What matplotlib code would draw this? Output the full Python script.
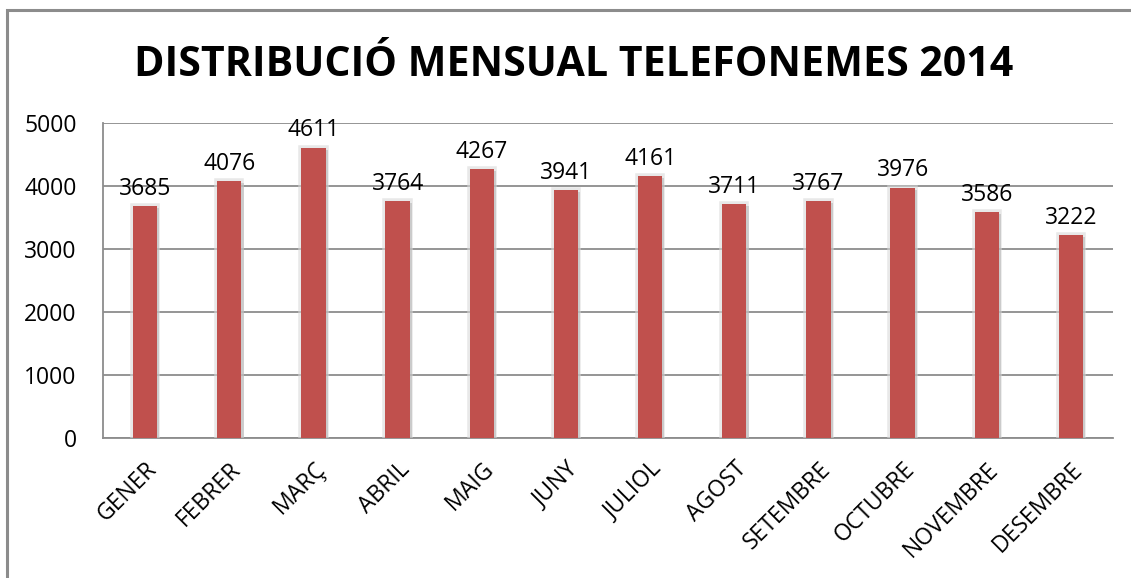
import matplotlib
matplotlib.use("Agg")
import matplotlib.pyplot as plt
import matplotlib.patheffects as pe
from matplotlib.patches import Rectangle

months = ["GENER", "FEBRER", "MARÇ", "ABRIL", "MAIG", "JUNY", "JULIOL",
          "AGOST", "SETEMBRE", "OCTUBRE", "NOVEMBRE", "DESEMBRE"]
calls = [3685, 4076, 4611, 3764, 4267, 3941, 4161, 3711, 3767, 3976, 3586, 3222]
yticks = [0, 1000, 2000, 3000, 4000, 5000]

plt.rcParams['font.family'] = ['Open Sans', 'DejaVu Sans']

fig = plt.figure(figsize=(11.31, 5.78), dpi=100)
# outer chart border (only top/left visible in the reference)
fig.patches.append(Rectangle((7 / 1131, -0.1), 1.2, 1 - 10 / 578 + 0.1,
                             transform=fig.transFigure, fill=False,
                             edgecolor='#8c8c8c', linewidth=2.2))

ax = fig.add_axes([103 / 1131, 1 - 438 / 578, (1113 - 103) / 1131, (438 - 123) / 578])

x = range(len(months))
# soft shadow on both sides of the bars
shadow = [pe.Stroke(linewidth=4, foreground='#d9d9d9', alpha=0.6),
          pe.SimplePatchShadow(offset=(1.5, -1.5), shadow_rgbFace='#b0b0b0', alpha=0.5),
          pe.Normal()]
bars = ax.bar(x, calls, width=0.29, color='#C0504D', zorder=3, path_effects=shadow)

for xi, v in zip(x, calls):
    ax.text(xi, v + 80, str(v), ha='center', va='bottom', fontsize=16.5, zorder=4)

ax.set_xlim(-0.5, len(months) - 0.5)
ax.set_ylim(0, 5000)
ax.set_yticks(yticks)
ax.set_xticks(list(x))
ax.set_xticklabels(months, rotation=45, ha='right', va='top', rotation_mode='anchor')
ax.tick_params(axis='both', length=0, labelsize=16.5)
ax.tick_params(axis='y', pad=19)
ax.tick_params(axis='x', pad=14)

ax.grid(axis='y', color='#8c8c8c', linewidth=1.3, zorder=0)
for s in ['top', 'right']:
    ax.spines[s].set_visible(False)
for s in ['left', 'bottom']:
    ax.spines[s].set_color('#8c8c8c')
    ax.spines[s].set_linewidth(1.3)

fig.text(574 / 1131, 1 - 65 / 578, "DISTRIBUCIÓ MENSUAL TELEFONEMES 2014",
         ha='center', va='center', fontsize=29.6, fontweight='bold')

fig.savefig("out.png", dpi=100)
